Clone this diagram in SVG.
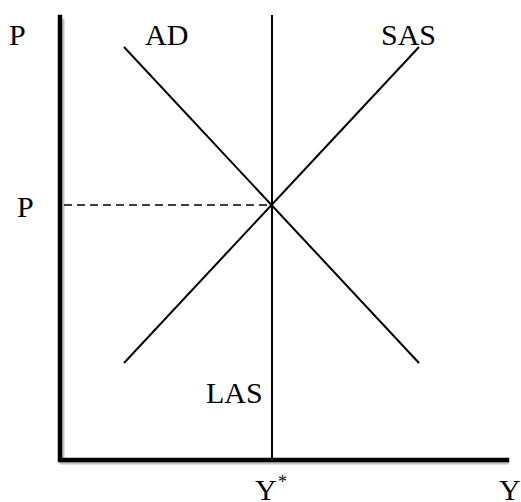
<svg xmlns="http://www.w3.org/2000/svg" width="521" height="502" viewBox="0 0 521 502">
<style>
  text { font-family: "Liberation Serif", "Times New Roman", serif; font-size: 30px; fill: #000; }
  .ln { stroke: #000; stroke-width: 2; fill: none; }
  .axis { stroke: #000; stroke-width: 4.5; fill: none; stroke-linecap: square; }
  .shadow { stroke: #999; stroke-width: 5; fill: none; opacity: 0.6; }
  .dash { stroke: #000; stroke-width: 1.5; stroke-dasharray: 8 5; fill: none; }
</style>
<rect width="521" height="502" fill="#fff"/>
<g id="axes">
  <path class="shadow" d="M62 19 V462 H509"/>
  <path class="axis" d="M60 17 V460 H507"/>
</g>
<g id="connectors">
  <line class="ln" x1="272" y1="15" x2="272" y2="460"/>
  <line class="ln" x1="124" y1="47" x2="419" y2="363"/>
  <line class="ln" x1="124" y1="363" x2="419" y2="47"/>
  <line class="dash" x1="64" y1="205" x2="272" y2="205"/>
</g>
<g id="labels">
  <text x="9" y="45">P</text>
  <text x="145" y="45">AD</text>
  <text x="381" y="45">SAS</text>
  <text x="17" y="217">P</text>
  <text x="206" y="403">LAS</text>
  <text x="255" y="500">Y</text>
  <text x="278" y="488" style="font-size:18px">*</text>
  <text x="499" y="500">Y</text>
</g>
</svg>
